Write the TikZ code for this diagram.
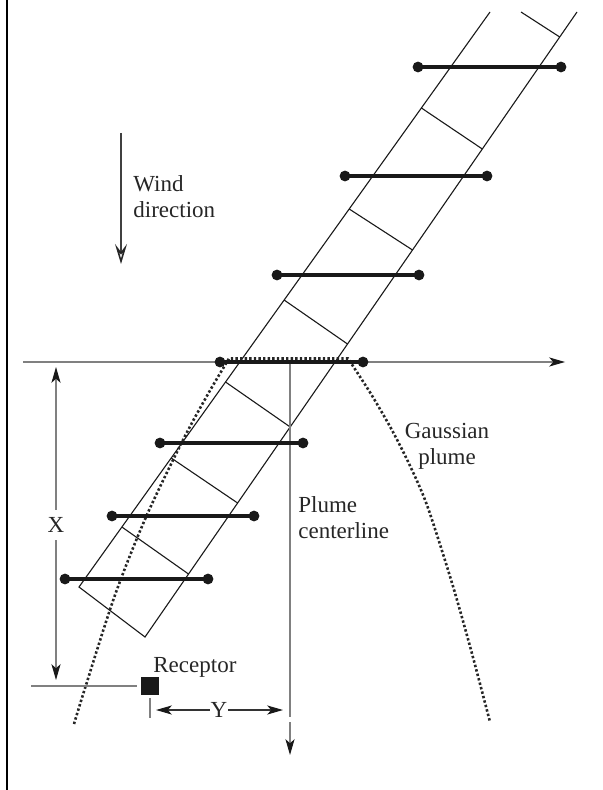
\documentclass[tikz,border=0pt]{standalone}
\usepackage{fontspec}
\setmainfont{Liberation Serif}
\usetikzlibrary{arrows.meta}
\newcommand{\lblfont}{\fontsize{11.5}{13}\selectfont}

\begin{document}
\begin{tikzpicture}[x=0.5pt, y=-0.5pt,
    >={Stealth[length=8pt, width=4.6pt, inset=2.2pt, color=black!90]},
    stripline/.style={line width=0.55pt, black!90},
    plumebar/.style={line width=1.6pt, black!90},
    grayline/.style={line width=0.55pt, black!50},
    dotcurve/.style={line width=1.3pt, black!85, dash pattern=on 1.2pt off 1.1pt},
    lbl/.style={font=\lblfont, inner sep=0pt, text=black!85}]
    \useasboundingbox (0,0) rectangle (602,790);

    % frame line
    \draw[line width=1pt] (7,0) -- (7,790);

    % wind direction
    \coordinate (wtop) at (121,133);
    \coordinate (wbot) at (121,264);
    \draw[line width=0.55pt, black!75, -{Stealth[open, length=10pt, width=6pt, inset=4pt, line width=0.8pt, color=black!85]}] (wtop) -- (wbot);
    \node[lbl, anchor=north west, align=left] (wind) at (133,175) {Wind\\direction};

    % plume strip
    \draw[stripline] (490,12) -- (79,587) -- (145,637) -- (577,12);
    \foreach \xa/\ya/\xb/\yb in {521/12/559.7/37, 421.4/108/482.3/149, 349.2/209/412.5/250,
        284.1/300/347.5/344, 225.5/382/290.2/427, 171.2/458/237.6/503, 121.9/527/188.5/574}
        \draw[stripline] (\xa,\ya) -- (\xb,\yb);

    % Gaussian plume
    \draw[dotcurve] plot[smooth] coordinates {(74,724) (86,685) (115,595) (146,517) (183,440) (208,394) (229,358.5)}
        -- (348,358.5) -- plot[smooth] coordinates {(348,358.5) (371,394) (393,432) (412,470) (428,508) (452,583) (471,650) (490,722)};

    % axis
    \coordinate (o) at (23,362);
    \coordinate (xend) at (565,362);
    \draw[grayline, ->] (o) -- (xend);

    % plume centerline
    \coordinate (ctop) at (290,362);
    \coordinate (cgap) at (290,717);
    \coordinate (cgap2) at (290,722);
    \coordinate (cend) at (290,755);
    \draw[grayline] (ctop) -- (cgap);
    \draw[grayline, ->] (cgap2) -- (cend);
    \node[lbl, anchor=north west, align=left] (cline) at (298,496) {Plume\\centerline};

    % concentration bars
    \foreach \y/\xa/\xb in {67/418/561, 176/345/487, 275/277/419, 362/220/363,
        443/160/303, 516/112/254, 579/65/208} {
        \draw[plumebar] (\xa,\y) -- (\xb,\y);
        \fill[black!90] (\xa,\y) circle (2.7pt) (\xb,\y) circle (2.7pt);
    }
    \node[lbl, anchor=north, align=center] (gauss) at (447,423) {Gaussian\\plume};

    % X distance
    \coordinate (xtop) at (56,367);
    \coordinate (xbot) at (56,680);
    \node[lbl, inner xsep=1pt, inner ysep=3.6pt] (xlab) at (56,525) {X};
    \draw[grayline, ->] (xlab) -- (xtop);
    \draw[grayline, ->] (xlab) -- (xbot);

    % receptor
    \node[fill=black!90, minimum size=9pt, inner sep=0pt] (rec) at (150,686) {};
    \coordinate (rl) at (31,686);
    \draw[grayline] (rl) -- ([xshift=-2pt]rec.west);
    \node[lbl, anchor=north west] (reclab) at (153,657) {Receptor};

    % Y distance
    \coordinate (ytk1) at (150,698);
    \coordinate (ytk2) at (150,718);
    \draw[grayline] (ytk1) -- (ytk2);
    \node[lbl, inner xsep=0.3pt] (ylab) at (219,710) {Y};
    \coordinate (yl) at (156,710);
    \coordinate (yr) at (283,710);
    \draw[line width=0.55pt, black!80, ->] (ylab) -- (yl);
    \draw[line width=0.55pt, black!80, ->] (ylab) -- (yr);
\end{tikzpicture}
\end{document}
